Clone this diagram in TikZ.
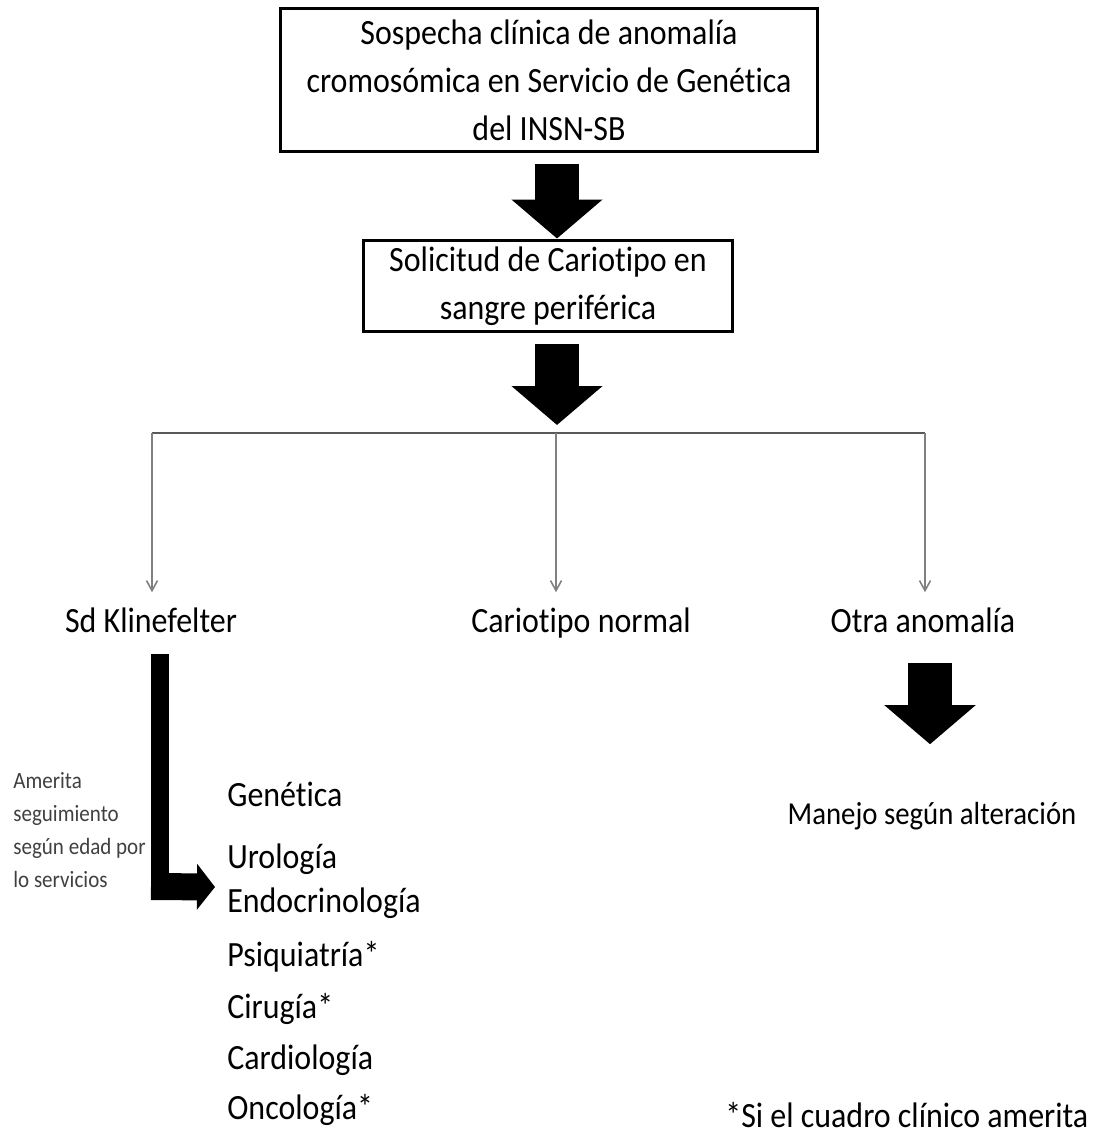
\documentclass[tikz,border=0pt]{standalone}
\usepackage{fontspec}
\setmainfont{Carlito}[FakeStretch=0.9, Ligatures=NoCommon]
\usetikzlibrary{positioning, calc, arrows.meta}

\begin{document}
\begin{tikzpicture}[x=0.02cm, y=-0.02cm,
    txt/.style={inner sep=0pt, text height=13pt, text depth=0pt,
        font=\fontsize{20.2}{27.3}\selectfont},
    box/.style={draw, line width=1.7pt, align=center, inner sep=0pt,
        font=\fontsize{20.2}{27.3}\selectfont},
    fatarrow/.style={line width=0.88cm, -{Triangle[width=1.78cm, length=0.78cm]}},
    thinarrow/.style={draw=gray, line width=0.9pt,
        -{Straight Barb[width=0.22cm, length=0.2cm]}, shorten >=0.34cm}]

    \useasboundingbox (0,0) rectangle (1114,1138);

    % Boxes at the top
    \node[box, minimum width=10.76cm, minimum height=2.88cm] (suspect) at (549,80)
        {Sospecha clínica de anomalía\\cromosómica en Servicio de Genética\\del INSN-SB};
    \node[box, minimum width=7.4cm, minimum height=1.84cm] (karyo) at (548,286)
        {Solicitud de Cariotipo en\\sangre periférica};

    % Big arrows
    \draw[fatarrow] ($(suspect.south)+(8,11)$) -- ($(karyo.north)+(9,0)$);
    \coordinate (left) at (152,433);
    \coordinate (hub) at (556,433);
    \coordinate (right) at (925,433);
    \draw[fatarrow] ($(karyo.south)+(9,11)$) -- ($(hub)+(1,-8)$);

    % Results
    \node[txt] (kline) at (151,621) {Sd Klinefelter};
    \node[txt] (normal) at (581,621) {Cariotipo normal};
    \node[txt] (other) at (923,621) {Otra anomalía};

    % Split
    \draw[gray!70!black, line width=1.2pt] (left) -- (right);
    \draw[thinarrow] (left) -- (left |- kline.north);
    \draw[thinarrow] (hub) -- (hub |- normal.north);
    \draw[thinarrow] (right) -- (right |- other.north);

    % Other anomaly
    \node[txt, font=\fontsize{18.2}{24}\selectfont] (manage) at (932,813) {Manejo según alteración};
    \draw[fatarrow] ($(other.south)+(7,30)$) -- ($(manage.north)+(-2,-57)$);

    % Follow-up services
    \foreach \n/\y/\t in {gen/795/Genética, uro/857/Urología, endo/901/Endocrinología,
        psi/955/Psiquiatría*, cir/1007/Cirugía*, car/1058/Cardiología, onc/1108/Oncología*}
        \node[txt, anchor=west] (\n) at (227,\y) {\t};

    \coordinate (bend) at (160,900);
    \draw[line width=0.36cm] ($(kline.south)+(9,21.5)$) -- (bend);
    \draw[line width=0.54cm, -{Triangle[width=0.9cm, length=0.36cm]}]
        ($(bend)+(-9,-13.5)$) -- ($(endo.west)+(-12,-14)$);

    \node[anchor=west, align=left, inner sep=0pt, text=black!75,
        font=\fontsize{13.3}{18.8}\selectfont] (note) at (13,830)
        {Amerita\\seguimiento\\según edad por\\lo servicios};

    \node[txt, anchor=west] (foot) at (725,1116) {*Si el cuadro clínico amerita};

\end{tikzpicture}
\end{document}
